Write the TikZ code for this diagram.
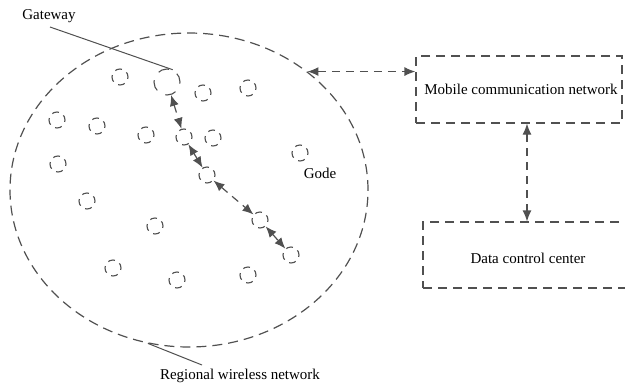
\documentclass[tikz,border=0pt]{standalone}
\usepackage{fontspec}
\setmainfont{Liberation Serif}
\usetikzlibrary{arrows.meta,shapes.geometric}
\definecolor{ln}{HTML}{505050}
\tikzset{
  sn/.style={circle,draw=ln,line width=1.1pt,minimum size=16pt,inner sep=0pt,dash pattern=on 7pt off 5.5pt,dash phase=2pt},
  gn/.style={sn,minimum size=26pt,dash pattern=on 11pt off 9.4pt},
  box/.style={draw=ln,line width=1.2pt,dash pattern=on 9pt off 6pt},
  lbl/.style={font=\fontsize{15}{17}\selectfont,text=black,inner sep=0pt},
  link/.style={draw=ln,line width=1.2pt,dash pattern=on 8pt off 6pt,{Latex[length=11pt,width=9pt]}-{Latex[length=11pt,width=9pt]}},
  pointer/.style={draw=ln,line width=1pt}
}
\begin{document}
\begin{tikzpicture}[x=1pt,y=-1pt]
\useasboundingbox (0,0) rectangle (625,384);
% regional network
\node[ellipse,box,dash pattern=on 10pt off 6pt,minimum width=358pt,minimum height=314pt,inner sep=0pt] (region) at (189,190) {};
% nodes
\node[gn] (gw) at (167,82) {};
\node[sn] (a1) at (120,77) {};
\node[sn] (a2) at (203,93) {};
\node[sn] (a3) at (248,88) {};
\node[sn] (a4) at (57,120) {};
\node[sn] (a5) at (97,126) {};
\node[sn] (a6) at (146,135) {};
\node[sn] (c1) at (184,137) {};
\node[sn] (a7) at (213,138) {};
\node[sn] (gode) at (300,153) {};
\node[sn] (a8) at (58,164) {};
\node[sn] (c2) at (207,175) {};
\node[sn] (a9) at (87,201) {};
\node[sn] (a10) at (155,226) {};
\node[sn] (c3) at (260,220) {};
\node[sn] (c4) at (291,255) {};
\node[sn] (a11) at (113,268) {};
\node[sn] (a12) at (177,280) {};
\node[sn] (a13) at (248,275) {};
% chain links
\draw[link] (gw) -- (c1);
\draw[link] (c1) -- (c2);
\draw[link] (c2) -- (c3);
\draw[link] (c3) -- (c4);
% labels
\node[lbl] (gwl) at (49,16) {Gateway};
\coordinate (gwp) at (50,27);
\draw[pointer] (gwp) -- (gw.65);
\node[lbl] (godel) at (320,173) {Gode};
\node[lbl] (regl) at (240,376) {Regional wireless network};
\coordinate (regp) at (202,365);
\draw[pointer] (region.255) -- (regp);
% boxes
\node[box,minimum width=206pt,minimum height=67pt,inner sep=0pt] (mob) at (519,89.5) {};
\node[lbl] (mobl) at (521,89) {Mobile communication network};
\node[box,minimum width=215pt,minimum height=66pt,inner sep=0pt] (dcc) at (530.5,255) {};
\node[lbl] (dccl) at (528,258) {Data control center};
% connections
\draw[link] (region.45) -- (region.45 -| mob.west);
\draw[link] (mob.south -| 527,0) -- (dcc.north -| 527,0);
\end{tikzpicture}
\end{document}
